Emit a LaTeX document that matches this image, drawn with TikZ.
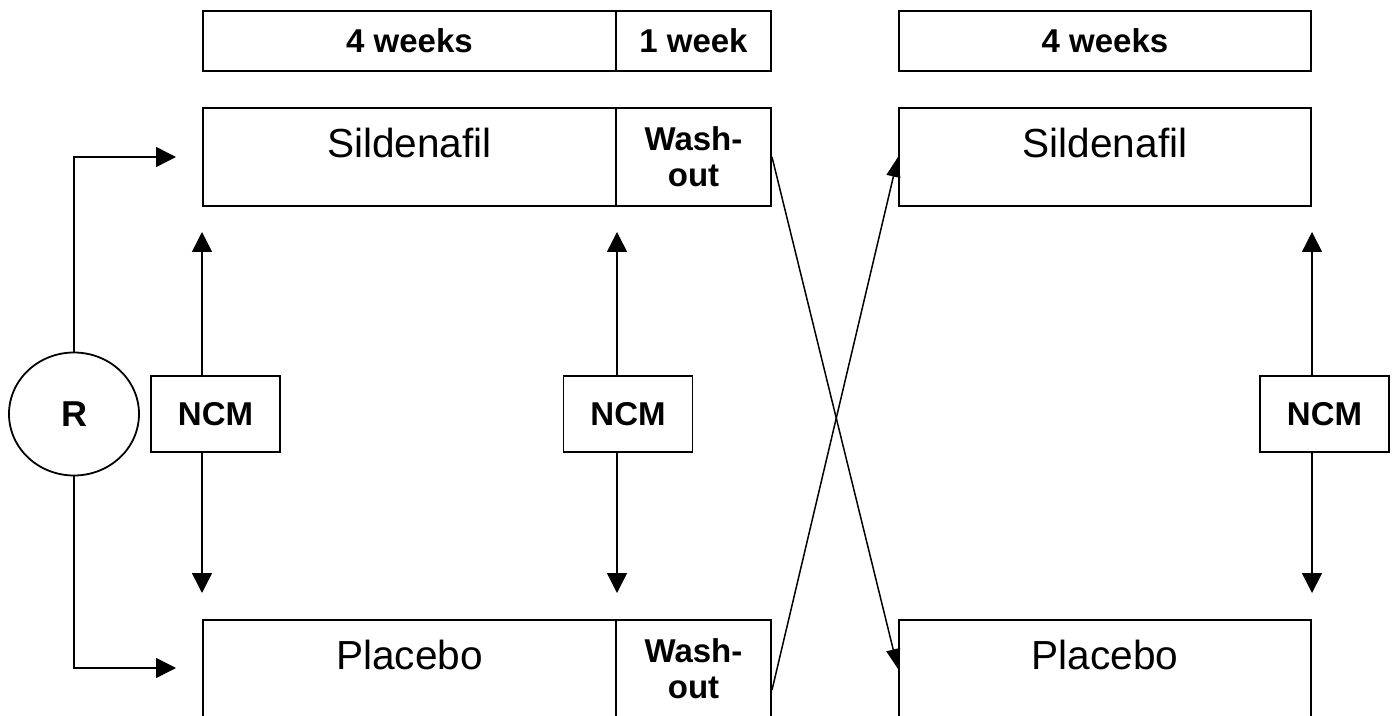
\documentclass[tikz,border=0pt]{standalone}
\usepackage{fontspec}
\setmainfont{Liberation Sans}
\usetikzlibrary{arrows.meta,shapes.geometric,calc}
\tikzset{
  box/.style={draw, rectangle, line width=1pt, inner sep=0pt},
  barbox/.style={box, minimum height=30pt},
  armbox/.style={box, minimum height=49pt},
  ncmbox/.style={box, line width=0.9pt, minimum width=64.5pt, minimum height=38pt, font=\fontsize{16.5}{18}\selectfont\bfseries},
  lbl/.style={font=\fontsize{16.5}{18}\selectfont\bfseries, align=center},
  big/.style={font=\fontsize{20.3}{24}\selectfont, inner sep=0pt},
  arr/.style={line width=0.75pt, -{Triangle[length=10pt,width=10pt]}},
  xarr/.style={line width=0.75pt, -{Triangle[length=10pt,width=7pt]}}
}
\begin{document}
\begin{tikzpicture}[x=0.5pt,y=-0.5pt]
\clip (0,0) rectangle (1396,716);
\fill[white] (0,0) rectangle (1396,716);
% top bars
\node[barbox, lbl, minimum width=206.5pt] (w4a) at (409.5,41) {4 weeks};
\node[barbox, lbl, minimum width=77.5pt] (w1) at (693.5,41) {1 week};
\node[barbox, lbl, minimum width=206pt] (w4b) at (1105,41) {4 weeks};
% sildenafil row
\node[armbox, minimum width=206.5pt] (sil1) at (409.5,157) {};
\node[armbox, lbl, minimum width=77.5pt] (wash1) at (693.5,157) {Wash-\\out};
\node[armbox, minimum width=206pt] (sil2) at (1105,157) {};
\node[big, anchor=base] (sil1t) at (409.5,158) {Sildenafil};
\node[big, anchor=base] (sil2t) at (1105,158) {Sildenafil};
% placebo row
\node[armbox, minimum width=206.5pt] (pla1) at (409.5,669) {};
\node[armbox, lbl, minimum width=77.5pt] (wash2) at (693.5,669) {Wash-\\out};
\node[armbox, minimum width=206pt] (pla2) at (1105,669) {};
\node[big, anchor=base] (pla1t) at (409.5,669) {Placebo};
\node[big, anchor=base] (pla2t) at (1105,669) {Placebo};
% R
\node[draw, ellipse, line width=0.9pt, minimum width=65pt, minimum height=61.5pt, inner sep=0pt, font=\fontsize{18}{20}\selectfont\bfseries] (R) at (74,414) {R};
% NCM boxes
\node[ncmbox] (ncm1) at (215.5,414) {NCM};
\node[ncmbox] (ncm2) at (628,414) {NCM};
\node[ncmbox] (ncm3) at (1324.5,414) {NCM};
% randomisation arrows
\draw[arr] (R.north) |- ($(sil1.west)+(-26,0)$);
\draw[arr] (R.south) |- ($(pla1.west)+(-26,-1)$);
% NCM arrows
\draw[arr] (ncm1.north -| sil1.south west) -- ($(sil1.south west)+(0,25)$);
\draw[arr] (ncm1.south -| pla1.north west) -- ($(pla1.north west)+(0,-26)$);
\draw[arr] (ncm2.north -| sil1.south east) -- ($(sil1.south east)+(0,25)$);
\draw[arr] (ncm2.south -| pla1.north east) -- ($(pla1.north east)+(0,-26)$);
\draw[arr] (ncm3.north -| sil2.south east) -- ($(sil2.south east)+(0,25)$);
\draw[arr] (ncm3.south -| pla2.north east) -- ($(pla2.north east)+(0,-26)$);
% cross-over arrows
\draw[xarr] (wash1.east) -- (pla2.west);
\draw[xarr] ($(wash2.east)+(0,21)$) -- (sil2.west);
\end{tikzpicture}
\end{document}
